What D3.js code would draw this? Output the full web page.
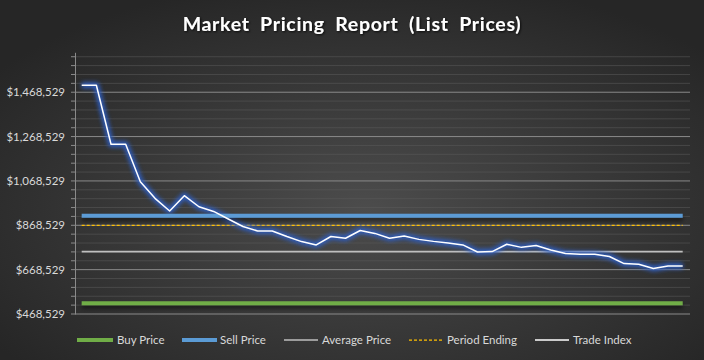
<!DOCTYPE html>
<html><head><meta charset="utf-8">
<script src="https://cdn.jsdelivr.net/npm/d3@7"></script>
<style>html,body{margin:0;padding:0;background:#2b2b2b;}svg{display:block;}</style>
</head><body>
<script>
// ---- data ----
const periods = d3.range(1, 43).map(i => "P" + i);
const tradeIndex = [1500000,1500000,1234000,1234000,1065000,990000,933000,1002000,952000,931000,
  897000,863000,843000,843000,818000,795000,780000,818000,810000,845000,
  832000,810000,820000,805000,796000,789000,780000,748000,750000,783000,
  769000,777000,757000,741000,738000,738000,728000,696000,693000,674000,685000,685000];
const buyPrice = 517000;
const sellPrice = 912000;
const averagePrice = 750000;
const periodEnding = 868529;
const yTickValues = [468529, 668529, 868529, 1068529, 1268529, 1468529];
const legendLabels = ["Buy Price", "Sell Price", "Average Price", "Period Ending", "Trade Index"];

const W = 704, H = 360;
const svg = d3.select("body").append("svg").attr("width", W).attr("height", H);
const defs = svg.append("defs");
const rg = defs.append("radialGradient").attr("id","bg").attr("cx","52%").attr("cy","58%").attr("r","65%");
rg.append("stop").attr("offset","0%").attr("stop-color","#4c4c4c");
rg.append("stop").attr("offset","100%").attr("stop-color","#262626");
const glow = defs.append("filter").attr("id","glow").attr("filterUnits","userSpaceOnUse")
  .attr("x",0).attr("y",0).attr("width",W).attr("height",H);
glow.append("feGaussianBlur").attr("stdDeviation", 2.2);
const shadow = defs.append("filter").attr("id","shadow").attr("filterUnits","userSpaceOnUse")
  .attr("x",0).attr("y",0).attr("width",W).attr("height",H);
shadow.append("feGaussianBlur").attr("in","SourceAlpha").attr("stdDeviation",2).attr("result","b");
shadow.append("feOffset").attr("in","b").attr("dy",3).attr("result","o");
shadow.append("feComponentTransfer").attr("in","o").attr("result","o2").append("feFuncA").attr("type","linear").attr("slope",0.6);
const m = shadow.append("feMerge"); m.append("feMergeNode").attr("in","o2"); m.append("feMergeNode").attr("in","SourceGraphic");
const tshadow = defs.append("filter").attr("id","tshadow");
tshadow.append("feDropShadow").attr("dx",1).attr("dy",1).attr("stdDeviation",1).attr("flood-color","#000").attr("flood-opacity",0.8);

svg.append("rect").attr("width",W).attr("height",H).attr("fill","url(#bg)");

const plotL = 75, plotR = 690, plotT = 52.3, plotB = 314;
const y = d3.scaleLinear().domain([468529, 1648529]).range([plotB, plotT]);
const x = d3.scalePoint().domain(periods).range([81.7, 682.7]);

// minor gridlines
const minor = d3.range(468529, 1648529, 40000).filter(v => !yTickValues.includes(v));
svg.append("g").selectAll("line").data(minor).join("line")
  .attr("x1", plotL).attr("x2", plotR).attr("y1", d => y(d)).attr("y2", d => y(d))
  .attr("stroke", "#5a5a5a").attr("stroke-width", 1).attr("opacity", 0.55);
// major gridlines
svg.append("g").selectAll("line").data(yTickValues.slice(1)).join("line")
  .attr("x1", plotL).attr("x2", plotR).attr("y1", d => y(d)).attr("y2", d => y(d))
  .attr("stroke", "#8a8a8a").attr("stroke-width", 1);

// axis
const yAxis = d3.axisLeft(y).tickValues(yTickValues).tickSize(0).tickPadding(10)
  .tickFormat(d => "$" + d3.format(",")(d));
const ag = svg.append("g").attr("transform", `translate(${plotL},0)`).call(yAxis);
ag.select(".domain").attr("stroke", "#8a8a8a");
ag.selectAll("text").attr("fill", "#d9d9d9").attr("font-family", "Lato, 'Open Sans', sans-serif").attr("font-size", 11.5);
// minor tick marks
svg.append("g").selectAll("line").data(d3.range(468529, 1648529, 40000)).join("line")
  .attr("x1", plotL - 4).attr("x2", plotL).attr("y1", d => y(d)).attr("y2", d => y(d))
  .attr("stroke", "#8a8a8a");
svg.append("line").attr("x1",plotL).attr("x2",plotR).attr("y1",plotB).attr("y2",plotB).attr("stroke","#8a8a8a");

const x0 = x(periods[0]), x1 = x(periods[periods.length-1]);
// constant lines
function hline(v, color, w, dash, filt) {
  const l = svg.append("line").attr("x1", x0).attr("x2", x1).attr("y1", y(v)).attr("y2", y(v))
    .attr("stroke", color).attr("stroke-width", w);
  if (dash) l.attr("stroke-dasharray", dash);
  if (filt) l.attr("filter", filt);
  return l;
}
hline(buyPrice, "#70ad47", 4, null, "url(#shadow)");
hline(averagePrice, "#bfbfbf", 1.75);
hline(periodEnding, "#ffc000", 1.25, "3,2");

// trade index with glow
const line = d3.line().x((d, i) => x(periods[i])).y(d => y(d));
svg.append("path").datum(tradeIndex).attr("d", line).attr("fill","none")
  .attr("stroke", "#2f5fc4").attr("stroke-width", 6).attr("stroke-linejoin","round").attr("filter","url(#glow)").attr("opacity",0.95);
hline(sellPrice, "#5b9bd5", 4, null, "url(#shadow)");
svg.append("path").datum(tradeIndex).attr("d", line).attr("fill","none")
  .attr("stroke", "#ffffff").attr("stroke-width", 1.5).attr("stroke-linejoin","round");

// title
svg.append("text").attr("x", W/2).attr("y", 31).attr("text-anchor","middle")
  .attr("font-family","Lato, 'Open Sans', sans-serif").attr("font-weight","bold").attr("font-size",19.5)
  .attr("word-spacing", 5).attr("letter-spacing", 0.7)
  .attr("fill","#ffffff").attr("filter","url(#tshadow)")
  .text("Market Pricing Report (List Prices)");

// legend
const legendItems = [
  {label: legendLabels[0], color: "#70ad47", w: 4, x1: 77, x2: 113, tx: 117},
  {label: legendLabels[1], color: "#5b9bd5", w: 4, x1: 182, x2: 217, tx: 220},
  {label: legendLabels[2], color: "#bfbfbf", w: 1.5, x1: 284, x2: 318, tx: 322},
  {label: legendLabels[3], color: "#ffc000", w: 1.25, x1: 409, x2: 444, tx: 447, dash: "3,2"},
  {label: legendLabels[4], color: "#ffffff", w: 1.5, x1: 535, x2: 569, tx: 573}
];
const ly = 340;
const lg = svg.append("g");
legendItems.forEach(it => {
  const l = lg.append("line").attr("x1", it.x1).attr("x2", it.x2).attr("y1", ly).attr("y2", ly)
    .attr("stroke", it.color).attr("stroke-width", it.w);
  if (it.dash) l.attr("stroke-dasharray", it.dash);
  lg.append("text").attr("x", it.tx).attr("y", ly + 4).attr("fill", "#d9d9d9")
    .attr("font-family","Lato, 'Open Sans', sans-serif").attr("font-size", 11.5).text(it.label);
});
</script>
</body></html>
